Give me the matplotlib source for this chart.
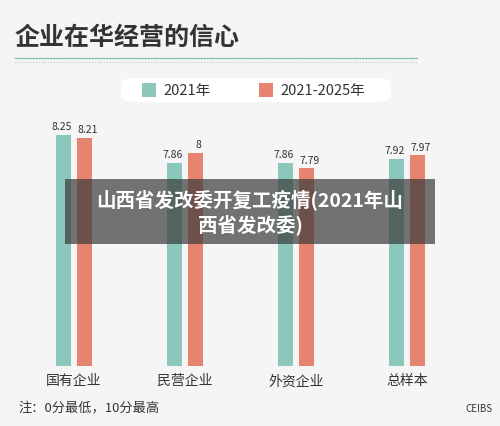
import matplotlib
matplotlib.use("Agg")
import matplotlib.pyplot as plt
from matplotlib.patches import FancyBboxPatch, Rectangle

plt.rcParams['font.family'] = ['Noto Sans CJK SC', 'DejaVu Sans']

categories = ['国有企业', '民营企业', '外资企业', '总样本']
s2021 = [8.25, 7.86, 7.86, 7.92]
s2025 = [8.21, 8.00, 7.79, 7.97]
labels2021 = ['8.25', '7.86', '7.86', '7.92']
labels2025 = ['8.21', '8', '7.79', '7.97']
teal, red = '#8cc7bc', '#e6846f'

W, H = 500, 427
fig = plt.figure(figsize=(5, 4.27), dpi=100)
fig.patch.set_facecolor('#f5f5f5')
bottom_px, top_px = 367, 110
ax = fig.add_axes([0, 1 - bottom_px / H, 1, (bottom_px - top_px) / H])
ax.set_facecolor('none')
ppu = 72.0
ymin = 8.25 - (bottom_px - 136) / ppu
ymax = 8.25 + (136 - top_px) / ppu
ax.set_ylim(ymin, ymax)
ax.set_xlim(-74 / 111, (500 - 74) / 111)
ax.axis('off')
x = list(range(len(categories)))
bw = 15 / 111
off = 10.5 / 111
ax.bar([i - off for i in x], s2021, bw, bottom=0, color=teal)
ax.bar([i + off for i in x], s2025, bw, bottom=0, color=red)
for i in x:
    ax.text(i - off - 0.02, s2021[i] + 0.05, labels2021[i], ha='center', va='bottom', fontsize=7.5, color='#333333')
    ax.text(i + off + 0.03, s2025[i] + 0.05, labels2025[i], ha='center', va='bottom', fontsize=7.5, color='#333333')
    ax.text(i, ymin - 0.1, categories[i], ha='center', va='top', fontsize=10, color='#333333')

def fx(px): return px / W
def fy(py): return 1 - py / H

fig.text(fx(15), fy(38), '企业在华经营的信心', fontsize=18, fontweight='bold', color='#333333', va='center')
fig.add_artist(plt.Line2D([fx(15), fx(417)], [fy(59), fy(59)], color=teal, lw=1))
fig.add_artist(plt.Line2D([fx(15), fx(417)], [fy(63), fy(63)], color='#bbbbbb', lw=0.8, ls=':'))
fig.add_artist(FancyBboxPatch((fx(121), fy(103)), fx(270), 24 / H, boxstyle='round,pad=0,rounding_size=0.02',
                              transform=fig.transFigure, facecolor='white', edgecolor='none'))
fig.add_artist(Rectangle((fx(142), fy(98)), 14 / W, 14 / H, transform=fig.transFigure, facecolor=teal, edgecolor='none'))
fig.text(fx(163), fy(91), '2021年', fontsize=10.5, color='#333333', va='center')
fig.add_artist(Rectangle((fx(259), fy(98)), 14 / W, 14 / H, transform=fig.transFigure, facecolor=red, edgecolor='none'))
fig.text(fx(280), fy(91), '2021-2025年', fontsize=10.5, color='#333333', va='center')
fig.text(fx(18), fy(409), '注：0分最低，10分最高', fontsize=9.5, color='#333333', va='center')
fig.text(fx(492), fy(409), 'CEIBS', fontsize=7, color='#333333', va='center', ha='right')

fig.add_artist(Rectangle((fx(65), fy(245)), 370 / W, 65 / H, transform=fig.transFigure,
                         facecolor='#3a3a3a', alpha=0.7, edgecolor='none'))
fig.text(0.5, fy(212), '山西省发改委开复工疫情(2021年山\n西省发改委)', ha='center', va='center',
         fontsize=14, fontweight='bold', color='white', linespacing=1.25)

fig.savefig('out.png', dpi=100, facecolor=fig.get_facecolor())
